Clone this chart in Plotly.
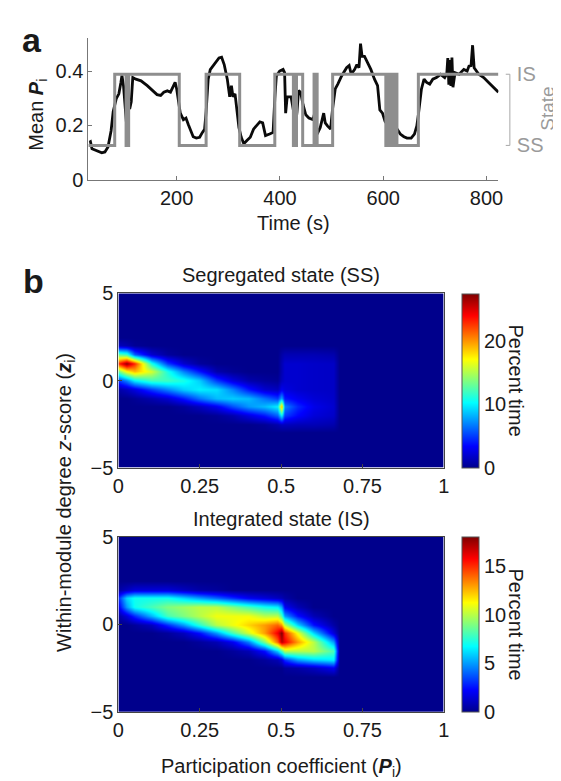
import numpy as np
import plotly.graph_objects as go

# ---------------- Panel a data ----------------
TIME_S = [31, 33, 36, 45, 55, 61, 67, 73, 77, 83, 88, 92, 94, 97, 99, 101, 103.5, 105.5, 109, 112,
          115, 121, 131, 143, 153, 162, 169, 175, 182, 188, 194, 197, 200, 203.5, 207, 213, 218,
          222.5, 227.5, 232, 238, 244.5, 249.5, 254, 257, 261, 265, 270, 275, 282, 287, 292, 298,
          302.7, 306, 309, 313, 317, 320.5, 325, 330, 336, 342.5, 348.8, 355, 361, 366.5, 369.7,
          372, 380, 386.7, 390, 393, 399.4, 406, 409, 411, 414, 421.5, 426.5, 429, 433, 436, 440,
          444.8, 450, 456, 464, 468.9, 472, 478, 484.7, 487.7, 492, 498, 502, 507, 512, 519.4, 529,
          534, 538, 544.7, 549, 553, 556, 559, 563.7, 570, 576, 583, 589, 593.4, 598.5, 603.5, 608,
          614, 619, 623, 627, 633, 640, 646, 654, 660.4, 665, 668, 671, 674, 679, 684, 690, 696,
          703, 711, 719, 723, 725, 727, 729, 731, 733, 735, 739, 747, 756, 762.5, 766, 770, 773,
          776, 785, 794.5, 804, 813, 823]
MEAN_P = [0.138, 0.14, 0.114, 0.106, 0.099, 0.102, 0.12, 0.18, 0.25, 0.298, 0.316, 0.358, 0.384,
          0.346, 0.287, 0.25, 0.19, 0.28, 0.26, 0.287, 0.376, 0.37, 0.364, 0.346, 0.328, 0.313,
          0.31, 0.322, 0.327, 0.322, 0.346, 0.358, 0.334, 0.287, 0.245, 0.221, 0.227, 0.203, 0.18,
          0.158, 0.153, 0.156, 0.173, 0.185, 0.25, 0.37, 0.405, 0.418, 0.432, 0.448, 0.451, 0.424,
          0.37, 0.305, 0.346, 0.305, 0.316, 0.25, 0.192, 0.156, 0.132, 0.144, 0.156, 0.186, 0.2,
          0.213, 0.209, 0.186, 0.162, 0.168, 0.174, 0.298, 0.382, 0.4, 0.406, 0.394, 0.245, 0.305,
          0.305, 0.25, 0.18, 0.25, 0.328, 0.322, 0.275, 0.239, 0.227, 0.221, 0.257, 0.168, 0.192,
          0.245, 0.209, 0.198, 0.186, 0.263, 0.334, 0.352, 0.382, 0.412, 0.42, 0.388, 0.406, 0.424,
          0.412, 0.501, 0.454, 0.454, 0.43, 0.406, 0.37, 0.346, 0.257, 0.245, 0.215, 0.203, 0.198,
          0.221, 0.192, 0.186, 0.168, 0.158, 0.153, 0.153, 0.168, 0.198, 0.239, 0.281, 0.334, 0.37,
          0.358, 0.352, 0.37, 0.376, 0.388, 0.376, 0.39, 0.448, 0.35, 0.44, 0.345, 0.45, 0.34,
          0.394, 0.388, 0.406, 0.40, 0.418, 0.42, 0.495, 0.412, 0.388, 0.376, 0.358, 0.34, 0.322]

# state switches: time at which each state starts (1 = IS, 0 = SS)
STATE_T = [29, 80, 102, 107, 205, 257, 322, 390, 426, 428, 430, 432, 444, 466, 468, 470, 472, 502,
           605, 607, 608.5, 610, 611.5, 613, 614.5, 616, 617.5, 619, 620.5, 622, 623.5, 625, 626.5,
           668, 823]
STATE = [0, 1, 0, 1, 0, 1, 0, 1, 0, 1, 0, 1, 0, 1, 0, 1, 0, 1,
         0, 1, 0, 1, 0, 1, 0, 1, 0, 1, 0, 1, 0, 1, 0,
         1, 1]
STATE_LABELS = ["SS", "IS"]

TIME_TICKS = [200, 400, 600, 800]
MEANP_TICKS = [0, 0.2, 0.4]
MEANP_TICKTEXT = ["0", "0.2", "0.4"]

# ---------------- Panel b data ----------------
P_NODES = [0, 0.025, 0.05, 0.1, 0.15, 0.2, 0.25, 0.3, 0.35, 0.4, 0.45, 0.49, 0.5, 0.51,
           0.55, 0.6, 0.66, 0.68, 1.0]
Z_NODES = [-5, -3, -2.5, -2, -1.5, -1, -0.5, 0, 0.5, 1, 1.5, 2, 2.5, 5]

# percent time, one list per P node (values along Z_NODES)
SS_COLUMNS = [
    [0, 0, 0, 0, 0, 0, 0.8, 5, 13, 23, 13, 1.5, 0, 0],
    [0, 0, 0, 0, 0, 0, 1.5, 7, 17, 27, 12, 1, 0, 0],
    [0, 0, 0, 0, 0, 0.3, 2.5, 10, 19, 23, 6, 0.3, 0, 0],
    [0, 0, 0, 0, 0, 1, 5, 12, 16, 11, 2, 0, 0, 0],
    [0, 0, 0, 0, 0, 2, 7, 12, 11, 5, 0.5, 0, 0, 0],
    [0, 0, 0, 0, 0.5, 4, 9, 11, 7, 2, 0, 0, 0, 0],
    [0, 0, 0, 0, 1.5, 6.5, 10, 9, 4, 0.5, 0, 0, 0, 0],
    [0, 0, 0, 0.3, 3, 8.5, 9.5, 5, 1, 0, 0, 0, 0, 0],
    [0, 0, 0, 1, 5.5, 9, 7, 2.5, 0.3, 0, 0, 0, 0, 0],
    [0, 0, 0, 2.5, 7.5, 8.5, 4, 1, 0, 0, 0, 0, 0, 0],
    [0, 0, 0.3, 4, 8.5, 6.5, 2, 0.5, 0, 0, 0, 0, 0, 0],
    [0, 0, 1, 6, 10, 5, 1.5, 0.3, 0, 0, 0, 0, 0, 0],
    [0, 0, 1.5, 10, 19, 8, 3, 1.5, 1.2, 1.2, 0.8, 0, 0, 0],
    [0, 0, 1.5, 5, 7, 4, 2.5, 2, 2, 2, 1.2, 0, 0, 0],
    [0, 0, 1.3, 3.5, 4.5, 3, 2, 2, 2, 2, 1.2, 0, 0, 0],
    [0, 0, 1.3, 2.3, 2.8, 2.2, 1.8, 1.8, 1.8, 1.8, 1.2, 0, 0, 0],
    [0, 0, 1, 1.8, 2, 1.8, 1.7, 1.7, 1.7, 1.7, 1, 0, 0, 0],
    [0, 0, 0, 0, 0, 0, 0, 0, 0, 0, 0, 0, 0, 0],
    [0, 0, 0, 0, 0, 0, 0, 0, 0, 0, 0, 0, 0, 0],
]
IS_COLUMNS = [
    [0, 0, 0, 0, 0, 0, 0, 0, 0.5, 2, 3, 0.5, 0, 0],
    [0, 0, 0, 0, 0, 0, 0, 0, 1.5, 5, 6, 1, 0, 0],
    [0, 0, 0, 0, 0, 0, 0, 0.3, 3, 7, 7, 1.5, 0, 0],
    [0, 0, 0, 0, 0, 0, 0, 1, 5.5, 8, 7, 1.5, 0, 0],
    [0, 0, 0, 0, 0, 0, 0.3, 3, 8, 9, 7, 1.5, 0, 0],
    [0, 0, 0, 0, 0, 0, 1, 5, 9, 9.5, 6, 1, 0, 0],
    [0, 0, 0, 0, 0, 0.3, 2.5, 7.5, 10, 10, 5, 0.5, 0, 0],
    [0, 0, 0, 0, 0, 0.8, 5, 10, 11, 10, 4, 0.3, 0, 0],
    [0, 0, 0, 0, 0.3, 2, 8, 11, 11, 9, 3, 0, 0, 0],
    [0, 0, 0, 0, 0.8, 4.5, 10.5, 12, 11, 8, 2, 0, 0, 0],
    [0, 0, 0, 0.3, 2.5, 9, 13, 13, 10, 7, 1.5, 0, 0, 0],
    [0, 0, 0, 0.8, 6, 14, 16, 14, 10, 6.5, 1, 0, 0, 0],
    [0, 0, 0, 1.5, 8, 17, 18, 13, 8, 5, 0.8, 0, 0, 0],
    [0, 0, 0.3, 3, 10, 16, 15, 10, 5, 2, 0.5, 0, 0, 0],
    [0, 0, 0.5, 5, 10, 13, 11, 6, 2.5, 0.8, 0, 0, 0, 0],
    [0, 0, 1, 6, 10, 10, 6, 2.5, 0.8, 0, 0, 0, 0, 0],
    [0, 0, 2, 6.5, 8, 5, 1.5, 0.5, 0, 0, 0, 0, 0, 0],
    [0, 0, 0, 0, 0, 0, 0, 0, 0, 0, 0, 0, 0, 0],
    [0, 0, 0, 0, 0, 0, 0, 0, 0, 0, 0, 0, 0, 0],
]
SS_MAX, IS_MAX = 27.5, 18
SS_CB_TICKS = [0, 10, 20]
IS_CB_TICKS = [0, 5, 10, 15]
P_TICKS = [0, 0.25, 0.5, 0.75, 1]
P_TICKTEXT = ["0", "0.25", "0.5", "0.75", "1"]
Z_TICKS = [-5, 0, 5]
Z_TICKTEXT = ["\u22125", "0", "5"]

# ---------------- styling ----------------
W, H = 561, 781
FONT = "Liberation Sans, Arial, Helvetica, sans-serif"
TXT = "#1a1a1a"
GRAY = "#8e8e8e"
LGRAY = "#9a9a9a"
FS = 20

JET = [[0, "rgb(0,0,140)"], [0.125, "rgb(0,0,255)"], [0.375, "rgb(0,255,255)"],
       [0.625, "rgb(255,255,0)"], [0.875, "rgb(255,0,0)"], [1, "rgb(128,0,0)"]]


def fx(px):
    return px / W


def fy(py):
    return 1 - py / H


fig = go.Figure()

# state (gray step)
fig.add_trace(go.Scatter(x=STATE_T, y=STATE, mode="lines", line=dict(color=GRAY, width=3, shape="hv"),
                         xaxis="x", yaxis="y4", hoverinfo="skip", showlegend=False))
# mean P
fig.add_trace(go.Scatter(x=TIME_S, y=MEAN_P, mode="lines", line=dict(color="#0a0a0a", width=2.8),
                         xaxis="x", yaxis="y", showlegend=False))

ss_z = np.array(SS_COLUMNS).T
is_z = np.array(IS_COLUMNS).T

cb_common = dict(xanchor="left", xpad=0, ypad=0, thickness=17, thicknessmode="pixels",
                 lenmode="fraction", yanchor="middle", outlinewidth=1, outlinecolor="#555",
                 ticks="", tickfont=dict(family=FONT, size=FS, color=TXT), ticklabelposition="outside")

fig.add_trace(go.Heatmap(x=P_NODES, y=Z_NODES, z=ss_z, zmin=0, zmax=SS_MAX, colorscale=JET,
                         zsmooth="best", xaxis="x2", yaxis="y2",
                         colorbar=dict(x=fx(458), y=fy((282.3 + 461.7) / 2), len=179.4 / H,
                                       tickvals=SS_CB_TICKS, **cb_common)))
fig.add_trace(go.Heatmap(x=P_NODES, y=Z_NODES, z=is_z, zmin=0, zmax=IS_MAX, colorscale=JET,
                         zsmooth="best", xaxis="x3", yaxis="y3",
                         colorbar=dict(x=fx(458), y=fy((532.7 + 713) / 2), len=180.3 / H,
                                       tickvals=IS_CB_TICKS, **cb_common)))

tickfont = dict(family=FONT, size=FS, color=TXT)
AX_A = "#777"
AX_B = "#444"
box_ax = dict(showline=True, mirror=True, linecolor=AX_B, linewidth=1, ticks="inside", ticklen=4,
              tickcolor=AX_B, showgrid=False, zeroline=False, tickfont=tickfont)
fig.update_layout(
    width=W, height=H, margin=dict(l=0, r=0, t=0, b=0),
    paper_bgcolor="white", plot_bgcolor="rgba(0,0,0,0)",
    font=dict(family=FONT, size=FS, color=TXT),
    showlegend=False,
    xaxis=dict(domain=[fx(76), fx(495)], range=[29, 823], anchor="y", tickvals=TIME_TICKS,
               showline=True, linecolor=AX_A, linewidth=1, ticks="inside", ticklen=4, tickcolor=AX_A,
               showgrid=False, zeroline=False, tickfont=tickfont),
    yaxis=dict(domain=[fy(165.3), fy(20)], range=[0, 0.52], anchor="x", tickvals=MEANP_TICKS,
               ticktext=MEANP_TICKTEXT, showline=True, linecolor=AX_A, linewidth=1, ticks="inside",
               ticklen=4, tickcolor=AX_A, showgrid=False, zeroline=False, tickfont=tickfont),
    yaxis4=dict(overlaying="y", anchor="free", side="right", position=fx(506.7),
                range=[-0.4812, 1.5033], tickvals=[0, 1], ticktext=STATE_LABELS, showline=False,
                ticks="", showgrid=False, zeroline=False, ticklabelstandoff=6,
                tickfont=dict(family=FONT, size=FS, color=LGRAY)),
    xaxis2=dict(domain=[fx(106.7), fx(439.3)], range=[0, 1], anchor="y2", tickvals=P_TICKS,
                ticktext=P_TICKTEXT, **box_ax),
    yaxis2=dict(domain=[fy(461.7), fy(282.3)], range=[-5, 5], anchor="x2", tickvals=Z_TICKS,
                ticktext=Z_TICKTEXT, **box_ax),
    xaxis3=dict(domain=[fx(106.7), fx(439.3)], range=[0, 1], anchor="y3", tickvals=P_TICKS,
                ticktext=P_TICKTEXT, **box_ax),
    yaxis3=dict(domain=[fy(713), fy(532.7)], range=[-5, 5], anchor="x3", tickvals=Z_TICKS,
                ticktext=Z_TICKTEXT, **box_ax),
)

# bracket for the state axis
BR = "#a8a8a8"
fig.add_shape(type="line", xref="paper", yref="y4", x0=fx(506.7), x1=fx(506.7), y0=0, y1=1,
              line=dict(color=BR, width=1))
for yv in (0, 1):
    fig.add_shape(type="line", xref="paper", yref="y4", x0=fx(502.5), x1=fx(506.7), y0=yv, y1=yv,
                  line=dict(color=BR, width=1))

ann = [
    dict(text="<b>a</b>", x=fx(18), y=fy(22), font=dict(size=34)),
    dict(text="<b>b</b>", x=fx(20), y=fy(270), font=dict(size=34)),
    dict(text="Time (s)", x=fx(285.5), y=fy(210)),
    dict(text="Mean <b><i>P</i></b><sub>i</sub>", x=fx(24), y=fy(98), textangle=-90),
    dict(text="State", x=fx(545), y=fy(92), textangle=-90, font=dict(color=LGRAY, size=19)),
    dict(text="Segregated state (SS)", x=fx(273), y=fy(263)),
    dict(text="Integrated state (IS)", x=fx(273), y=fy(515)),
    dict(text="Participation coefficient (<b><i>P</i></b><sub>i</sub>)", x=fx(273), y=fy(770)),
    dict(text="Within-module degree <i>z</i>-score (<b><i>z</i></b><sub>i</sub>)", x=fx(52),
         y=fy(497), textangle=-90),
    dict(text="Percent time", x=fx(513), y=fy(372), textangle=90),
    dict(text="Percent time", x=fx(513), y=fy(623), textangle=90),
]
for a in ann:
    font = dict(family=FONT, size=FS, color=TXT)
    font.update(a.pop("font", {}))
    fig.add_annotation(xref="paper", yref="paper", showarrow=False, xanchor="center",
                       yanchor="middle", font=font, **a)

fig.write_html("out.html")
